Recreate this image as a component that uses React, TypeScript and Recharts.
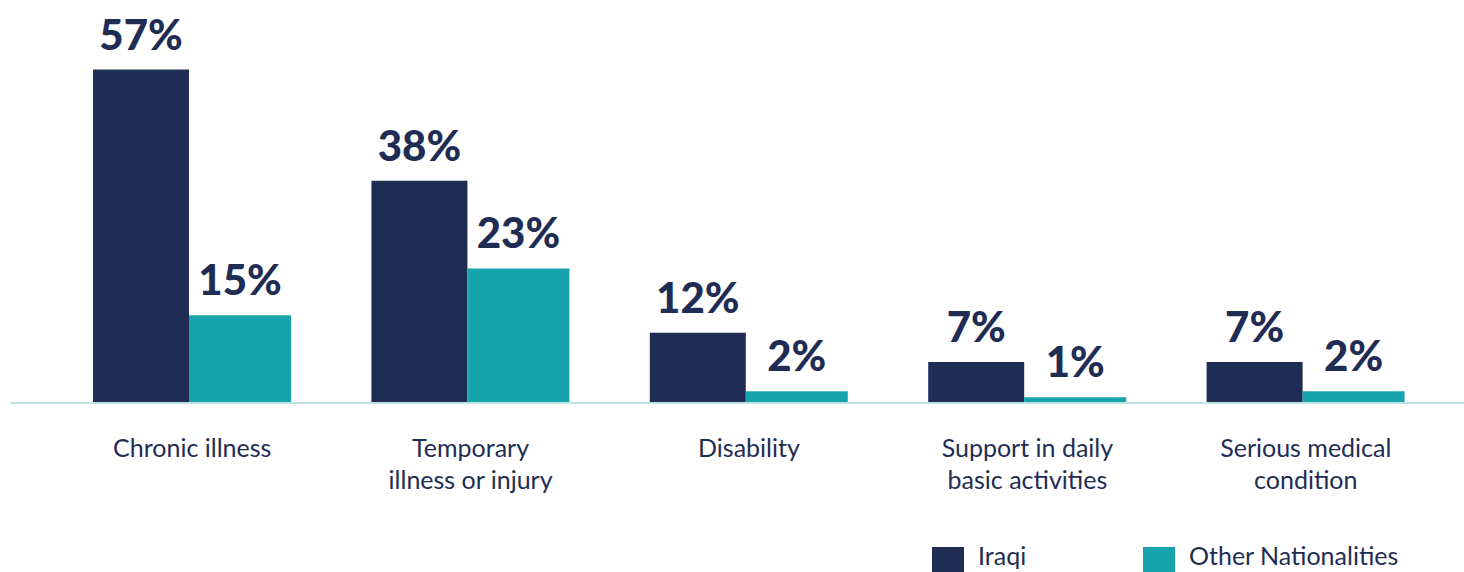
import React from 'react';
import { BarChart, Bar, XAxis, YAxis, LabelList, Legend } from 'recharts';

const categories = [
  'Chronic illness',
  'Temporary\nillness or injury',
  'Disability',
  'Support in daily\nbasic activities',
  'Serious medical\ncondition',
];
const iraqi = [57, 38, 12, 7, 7];
const otherNationalities = [15, 23, 2, 1, 2];

const NAVY = '#1f2d54';
const TEAL = '#17a4ac';
const FONT = 'Lato, "Open Sans", sans-serif';

const data = categories.map((name, i) => ({
  name,
  iraqi: iraqi[i],
  other: otherNationalities[i],
}));

function CategoryTick({ x, y, payload }: any) {
  const lines = String(payload.value).split('\n');
  return (
    <text
      x={x}
      y={y}
      textAnchor="middle"
      fill={NAVY}
      fontFamily={FONT}
      fontSize={25}
    >
      {lines.map((line, i) => (
        <tspan key={i} x={x} dy={i === 0 ? 46 : 32}>
          {line}
        </tspan>
      ))}
    </text>
  );
}

function LegendContent() {
  const items = [
    { label: 'Iraqi', color: NAVY, left: 932 },
    { label: 'Other Nationalities', color: TEAL, left: 1143 },
  ];
  return (
    <div style={{ position: 'relative', height: 40, width: 1464 }}>
      {items.map((it) => (
        <div
          key={it.label}
          style={{
            position: 'absolute',
            left: it.left,
            top: 15,
            display: 'flex',
            alignItems: 'flex-start',
          }}
        >
          <div style={{ width: 32, height: 32, background: it.color }} />
          <span
            style={{
              marginLeft: 14,
              marginTop: -6,
              fontFamily: FONT,
              fontSize: 25,
              color: NAVY,
              lineHeight: '28px',
            }}
          >
            {it.label}
          </span>
        </div>
      ))}
    </div>
  );
}

export default function App() {
  return (
    <div style={{ position: 'absolute', left: 0, top: 0, background: '#fff', overflow: 'hidden', width: 1464, height: 572 }}>
      <BarChart
        width={1464}
        height={572}
        data={data}
        margin={{ top: 52, right: 0, bottom: 0, left: 10 }}
        barGap={0}
      >
        <XAxis
          dataKey="name"
          interval={0}
          height={129}
          padding={{ left: 43, right: 19 }}
          axisLine={{ stroke: '#bfe3e4', strokeWidth: 2 }}
          tickLine={false}
          tick={<CategoryTick />}
        />
        <YAxis hide domain={[0, 60]} />
        <Legend
          verticalAlign="bottom"
          align="left"
          height={40}
          content={<LegendContent />}
          wrapperStyle={{ left: 0, bottom: 0 }}
        />
        <Bar dataKey="iraqi" name="Iraqi" fill={NAVY} barSize={96} isAnimationActive={false}>
          <LabelList
            dataKey="iraqi"
            position="top"
            offset={20}
            formatter={(v: any) => `${v}%`}
            style={{ fill: NAVY, fontFamily: FONT, fontSize: 42, fontWeight: 900 }}
          />
        </Bar>
        <Bar dataKey="other" name="Other Nationalities" fill={TEAL} barSize={102} isAnimationActive={false}>
          <LabelList
            dataKey="other"
            position="top"
            offset={20}
            formatter={(v: any) => `${v}%`}
            style={{ fill: NAVY, fontFamily: FONT, fontSize: 42, fontWeight: 900 }}
          />
        </Bar>
      </BarChart>
    </div>
  );
}
